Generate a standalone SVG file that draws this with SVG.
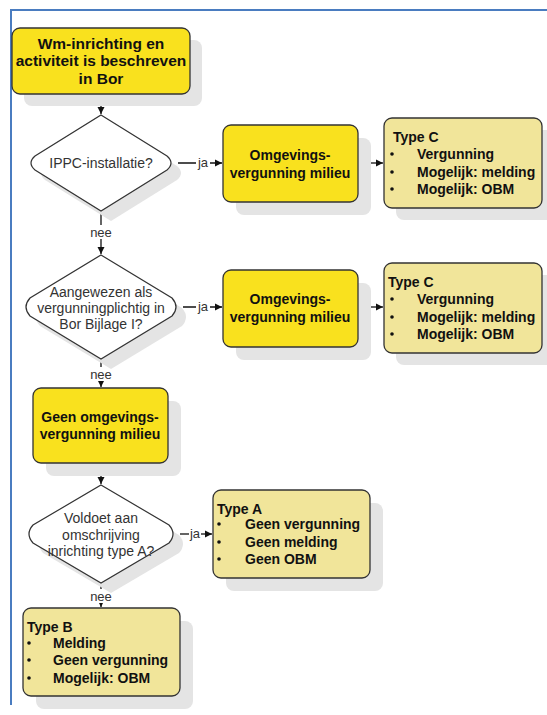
<svg xmlns="http://www.w3.org/2000/svg" width="547" height="715" viewBox="0 0 547 715">
<defs>
<style>
.sh{fill:#e4e4e4}
.y{fill:#F9E11E;stroke:#333;stroke-width:1.3}
.t{fill:#F1E59A;stroke:#333;stroke-width:1.3}
.d{fill:#fff;stroke:#333;stroke-width:1.2}
.c{stroke:#111;stroke-width:1.3;fill:none}
.b{font-family:"Liberation Sans",Arial,sans-serif;font-size:14px;font-weight:bold;fill:#111}
.b16{font-size:15.5px}
.r{font-family:"Liberation Sans",Arial,sans-serif;font-size:14px;fill:#333}
.s{font-size:13px}
.m{text-anchor:middle}
</style>
<marker id="ah" markerWidth="8" markerHeight="8" refX="7" refY="4" orient="auto" markerUnits="userSpaceOnUse">
<path d="M0,0.5 L7,4 L0,7.5 Z" fill="#111"/>
</marker>
</defs>
<rect width="547" height="715" fill="#fff"/>
<path d="M11,705 L11,10 L547,10" fill="none" stroke="#4a7cc0" stroke-width="2"/>

<g id="connectors">
<line class="c" x1="101" y1="94" x2="101" y2="114" marker-end="url(#ah)"/>
<line class="c" x1="101" y1="211" x2="101" y2="254" marker-end="url(#ah)"/>
<rect x="88" y="225" width="26" height="14" fill="#fff"/>
<text class="r s m" x="101" y="237">nee</text>
<line class="c" x1="178" y1="163" x2="222" y2="163" marker-end="url(#ah)"/>
<rect x="196" y="156" width="14" height="14" fill="#fff"/>
<text class="r s m" x="203" y="167">ja</text>
<line class="c" x1="358" y1="163" x2="383" y2="163" marker-end="url(#ah)"/>
<line class="c" x1="101" y1="359" x2="101" y2="387" marker-end="url(#ah)"/>
<rect x="88" y="367" width="26" height="14" fill="#fff"/>
<text class="r s m" x="101" y="379">nee</text>
<line class="c" x1="183" y1="307" x2="222" y2="307" marker-end="url(#ah)"/>
<rect x="196" y="300" width="14" height="14" fill="#fff"/>
<text class="r s m" x="203" y="311">ja</text>
<line class="c" x1="358" y1="307" x2="383" y2="307" marker-end="url(#ah)"/>
<line class="c" x1="101" y1="463" x2="101" y2="484" marker-end="url(#ah)"/>
<line class="c" x1="180" y1="534" x2="212" y2="534" marker-end="url(#ah)"/>
<rect x="189" y="527" width="12" height="14" fill="#fff"/>
<text class="r s m" x="195" y="538">ja</text>
<line class="c" x1="101" y1="582" x2="101" y2="607" marker-end="url(#ah)"/>
<rect x="88" y="589" width="26" height="14" fill="#fff"/>
<text class="r s m" x="101" y="601">nee</text>
</g>

<g id="start">
<rect class="sh" x="24" y="40" width="178" height="66" rx="8"/>
<rect class="y" x="12" y="28" width="178" height="66" rx="8"/>
<text class="b b16 m" x="101" y="49">Wm-inrichting en</text>
<text class="b b16 m" x="101" y="66">activiteit is beschreven</text>
<text class="b b16 m" x="101" y="84">in Bor</text>
</g>

<g id="ippc">
<path class="sh" d="M111,125 L177,166 Q185,173 177,180 L111,221 L45,180 Q37,173 45,166 Z"/>
<path class="d" d="M101,115 L167,156 Q175,163 167,170 L101,211 L35,170 Q27,163 35,156 Z"/>
<text class="r m" x="101" y="168">IPPC-installatie?</text>
</g>

<g id="ov1">
<rect class="sh" x="236" y="138" width="135" height="77" rx="8"/>
<rect class="y" x="223" y="125" width="135" height="77" rx="8"/>
<text class="b m" x="290" y="160">Omgevings-</text>
<text class="b m" x="290" y="178">vergunning milieu</text>
</g>

<g id="typec1">
<rect class="sh" x="396" y="130" width="158" height="90" rx="8"/>
<rect class="t" x="384" y="118" width="158" height="90" rx="8"/>
<text class="b" x="393" y="142">Type C</text>
<circle cx="392" cy="154" r="1.8" fill="#111"/>
<circle cx="392" cy="172" r="1.8" fill="#111"/>
<circle cx="392" cy="189" r="1.8" fill="#111"/>
<text class="b" x="417" y="159">Vergunning</text>
<text class="b" x="417" y="177">Mogelijk: melding</text>
<text class="b" x="417" y="194">Mogelijk: OBM</text>
</g>

<g id="bijlage">
<path class="sh" d="M111,265 L182,308 Q190,317 182,326 L111,369 L40,326 Q32,317 40,308 Z"/>
<path class="d" d="M101,255 L172,298 Q180,307 172,316 L101,359 L30,316 Q22,307 30,298 Z"/>
<text class="r m" x="101" y="297">Aangewezen als</text>
<text class="r m" x="101" y="313">vergunningplichtig in</text>
<text class="r m" x="101" y="329">Bor Bijlage I?</text>
</g>

<g id="ov2">
<rect class="sh" x="236" y="283" width="135" height="77" rx="8"/>
<rect class="y" x="223" y="270" width="135" height="77" rx="8"/>
<text class="b m" x="290" y="304">Omgevings-</text>
<text class="b m" x="290" y="322">vergunning milieu</text>
</g>

<g id="typec2">
<rect class="sh" x="396" y="275" width="158" height="90" rx="8"/>
<rect class="t" x="384" y="263" width="158" height="90" rx="8"/>
<text class="b" x="388" y="287">Type C</text>
<circle cx="392" cy="299" r="1.8" fill="#111"/>
<circle cx="392" cy="317" r="1.8" fill="#111"/>
<circle cx="392" cy="334" r="1.8" fill="#111"/>
<text class="b" x="417" y="304">Vergunning</text>
<text class="b" x="417" y="322">Mogelijk: melding</text>
<text class="b" x="417" y="339">Mogelijk: OBM</text>
</g>

<g id="geen">
<rect class="sh" x="46" y="401" width="135" height="75" rx="8"/>
<rect class="y" x="33" y="388" width="135" height="75" rx="8"/>
<text class="b m" x="100" y="422">Geen omgevings-</text>
<text class="b m" x="100" y="439">vergunning milieu</text>
</g>

<g id="typea-q">
<path class="sh" d="M111,495 L179,535 Q187,544 179,553 L111,593 L43,553 Q35,544 43,535 Z"/>
<path class="d" d="M101,485 L169,525 Q177,534 169,543 L101,583 L33,543 Q25,534 33,525 Z"/>
<text class="r m" x="101" y="523">Voldoet aan</text>
<text class="r m" x="101" y="540">omschrijving</text>
<text class="r m" x="101" y="556">inrichting type A?</text>
</g>

<g id="typea">
<rect class="sh" x="226" y="503" width="157" height="88" rx="8"/>
<rect class="t" x="213" y="490" width="157" height="88" rx="8"/>
<text class="b" x="217" y="514">Type A</text>
<circle cx="219" cy="524" r="1.8" fill="#111"/>
<circle cx="219" cy="542" r="1.8" fill="#111"/>
<circle cx="219" cy="559" r="1.8" fill="#111"/>
<text class="b" x="245" y="529">Geen vergunning</text>
<text class="b" x="245" y="547">Geen melding</text>
<text class="b" x="245" y="564">Geen OBM</text>
</g>

<g id="typeb">
<rect class="sh" x="36" y="621" width="157" height="88" rx="8"/>
<rect class="t" x="23" y="608" width="157" height="88" rx="8"/>
<text class="b" x="27" y="632">Type B</text>
<circle cx="29" cy="643" r="1.8" fill="#111"/>
<circle cx="29" cy="660" r="1.8" fill="#111"/>
<circle cx="29" cy="678" r="1.8" fill="#111"/>
<text class="b" x="53" y="648">Melding</text>
<text class="b" x="53" y="665">Geen vergunning</text>
<text class="b" x="53" y="683">Mogelijk: OBM</text>
</g>
</svg>
